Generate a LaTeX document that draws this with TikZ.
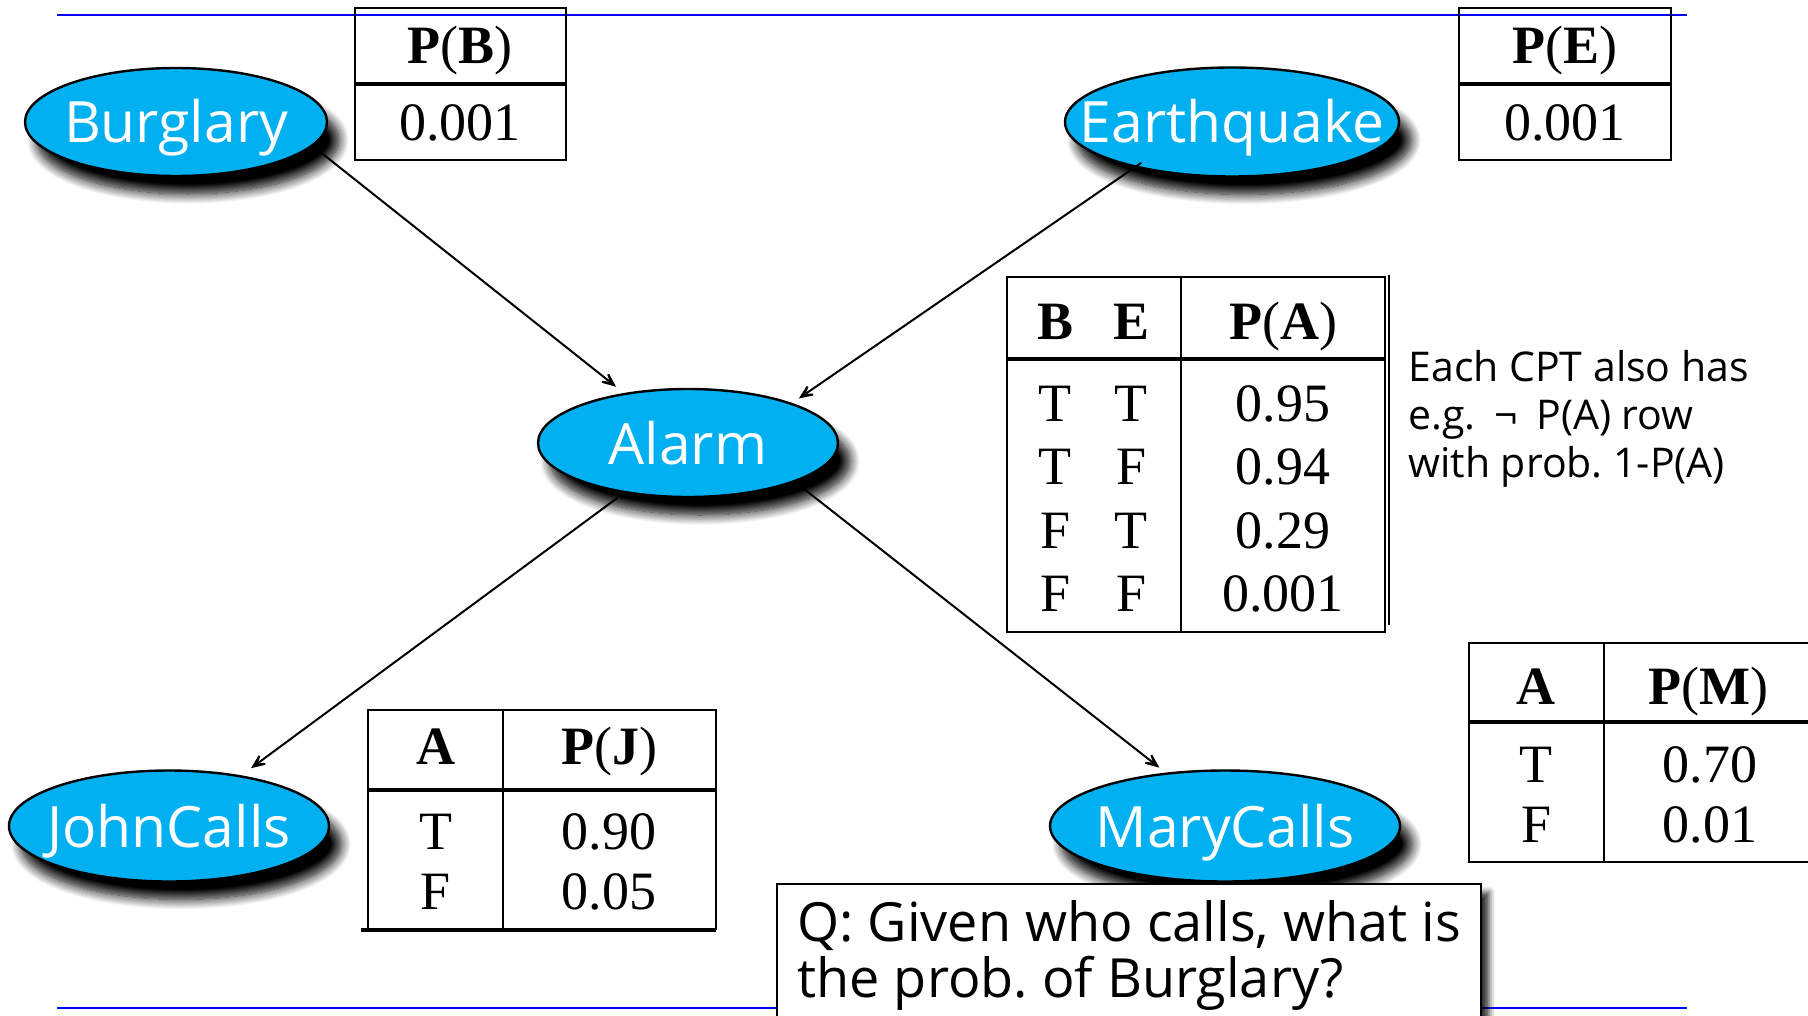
\documentclass[tikz,border=0pt]{standalone}
\usepackage{fontspec}
\setmainfont{Liberation Serif}
\newfontfamily\opensans{Open Sans}
\usetikzlibrary{shapes.geometric, arrows.meta, shadows.blur}
\definecolor{nodeblue}{RGB}{0,176,240}
\definecolor{ruleblue}{RGB}{0,0,255}
\frenchspacing

\begin{document}
\begin{tikzpicture}[x=0.5pt, y=-0.5pt,
  bnode/.style={ellipse, draw=black, line width=1.2pt, fill=nodeblue, inner sep=0pt,
    blur shadow={shadow xshift=6pt, shadow yshift=-9pt, shadow blur radius=5pt, shadow blur steps=12, shadow opacity=100}},
  ntext/.style={anchor=base, text=white, inner sep=0pt, font=\opensans\fontsize{28.5}{34}\selectfont},
  cell/.style={anchor=base, inner sep=0pt, font=\fontsize{27}{32}\selectfont},
  tab/.style={line width=1.3pt},
  sep/.style={line width=2.2pt},
  link/.style={line width=1pt, -{Stealth[length=13pt, width=11pt, inset=9pt]}},
  note/.style={anchor=base west, inner sep=0pt, font=\opensans\fontsize{20.5}{24}\selectfont},
  qbox/.style={rectangle, draw=black, line width=1.2pt, fill=white, inner sep=0pt,
    blur shadow={shadow xshift=4pt, shadow yshift=-4pt, shadow blur radius=3pt, shadow opacity=80}},
  qtext/.style={anchor=base west, inner sep=0pt, font=\opensans\fontsize{27}{32}\selectfont}]
\useasboundingbox (0,0) rectangle (1808,1016);
% rules
\draw[ruleblue, line width=1.2pt] (57,15) -- (1687,15);
\draw[ruleblue, line width=1.2pt] (57,1008) -- (1687,1008);
% network
\node[bnode, minimum width=151pt, minimum height=54pt] (burglary) at (176,122) {};
\node[bnode, minimum width=167pt, minimum height=54.5pt] (earthquake) at (1232,122) {};
\node[bnode, minimum width=150pt, minimum height=54pt] (alarm) at (688,443) {};
\node[bnode, minimum width=160pt, minimum height=55.5pt] (john) at (169,826) {};
\node[bnode, minimum width=175pt, minimum height=55.5pt] (mary) at (1225,826) {};
\node[ntext] (burglarytext) at ([yshift=-10.5pt]burglary.center) {Burglary};
\node[ntext] (earthquaketext) at ([yshift=-10.5pt]earthquake.center) {Earthquake};
\node[ntext] (alarmtext) at ([yshift=-10.5pt]alarm.center) {Alarm};
\node[ntext] (johntext) at ([yshift=-10.5pt]john.center) {JohnCalls};
\node[ntext] (marytext) at ([yshift=-10.5pt]mary.center) {MaryCalls};
\draw[link, shorten >=5pt] (burglary.-10) -- (alarm.142);
\draw[link, shorten <=-4pt, shorten >=4pt] (earthquake.205.6) -- (alarm.21.7);
\draw[link, shorten <=4pt, shorten >=6pt] (alarm.218.3) -- (john.35.1);
\draw[link, shorten >=4pt] (alarm.-20.2) -- (mary.138.7);
% P(B)
\draw[tab] (355,8) rectangle (566,160);
\draw[sep] (355,84) -- (566,84);
\node[cell] (pbhead) at (460,64) {\textbf{P}(\textbf{B})};
\node[cell] (pbval) at (460,141) {0.001};
% P(E)
\draw[tab] (1459,8) rectangle (1671,160);
\draw[sep] (1459,84) -- (1671,84);
\node[cell] (pehead) at (1565,64) {\textbf{P}(\textbf{E})};
\node[cell] (peval) at (1565,141) {0.001};
% P(A)
\draw[tab] (1007,277) rectangle (1385,632);
\draw[tab] (1181,277) -- (1181,632);
\draw[sep] (1007,359) -- (1385,359);
\draw[line width=0.8pt] (1389,275) -- (1389,625);
\node[cell] (pab) at (1055,339) {\textbf{B}};
\node[cell] (pae) at (1131,339) {\textbf{E}};
\node[cell] (pahead) at (1283,339) {\textbf{P}(\textbf{A})};
\node[cell] (pab1) at (1055,421) {T};
\node[cell] (pae1) at (1131,421) {T};
\node[cell] (paval1) at (1283,421) {0.95};
\node[cell] (pab2) at (1055,484) {T};
\node[cell] (pae2) at (1131,484) {F};
\node[cell] (paval2) at (1283,484) {0.94};
\node[cell] (pab3) at (1055,548) {F};
\node[cell] (pae3) at (1131,548) {T};
\node[cell] (paval3) at (1283,548) {0.29};
\node[cell] (pab4) at (1055,611) {F};
\node[cell] (pae4) at (1131,611) {F};
\node[cell] (paval4) at (1283,611) {0.001};
\node[note] (note1) at (1408,381) {Each CPT also has};
\node[note] (note2) at (1408,429) {e.g.\hspace{4pt} ¬\hspace{4pt} P(A) row};
\node[note] (note3) at (1408,477) {with prob. 1-P(A)};
% P(J)
\draw[tab] (368,710) rectangle (716,929);
\draw[tab] (503,710) -- (503,929);
\draw[sep] (368,790) -- (716,790);
\draw[sep] (361,930) -- (716,930);
\node[cell] (pja) at (436,764) {\textbf{A}};
\node[cell] (pjhead) at (609,764) {\textbf{P}(\textbf{J})};
\node[cell] (pjt) at (436,849) {T};
\node[cell] (pjval1) at (609,849) {0.90};
\node[cell] (pjf) at (436,909) {F};
\node[cell] (pjval2) at (609,909) {0.05};
% P(M)
\draw[tab] (1469,643) rectangle (1812,862);
\draw[tab] (1604,643) -- (1604,862);
\draw[sep] (1469,722) -- (1812,722);
\node[cell] (pma) at (1536,704) {\textbf{A}};
\node[cell] (pmhead) at (1708,704) {\textbf{P}(\textbf{M})};
\node[cell] (pmt) at (1536,782) {T};
\node[cell] (pmval1) at (1710,782) {0.70};
\node[cell] (pmf) at (1536,842) {F};
\node[cell] (pmval2) at (1710,842) {0.01};
% question
\node[qbox, minimum width=352pt, minimum height=80pt, anchor=north west] (question) at (776,883) {};
\node[qtext] (qline1) at (797,941) {Q: Given who calls, what is};
\node[qtext] (qline2) at (797,997) {the prob. of Burglary?};
\end{tikzpicture}
\end{document}
